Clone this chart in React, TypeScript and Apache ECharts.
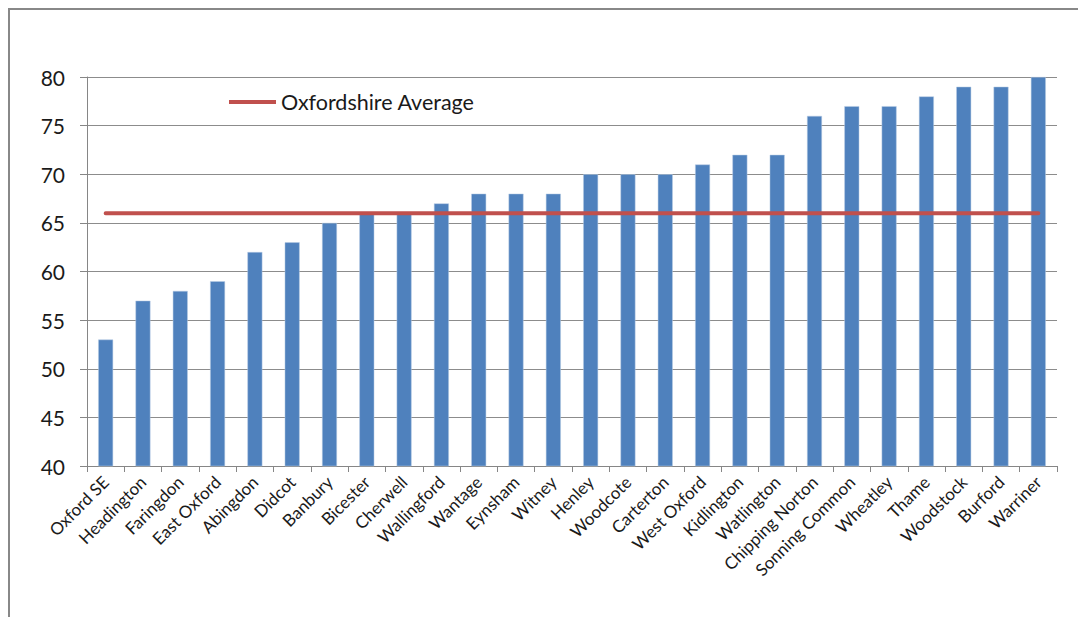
import React, { useEffect, useRef } from "react";
import * as echarts from "echarts";

const categories = [
  "Oxford SE", "Headington", "Faringdon", "East Oxford", "Abingdon", "Didcot",
  "Banbury", "Bicester", "Cherwell", "Wallingford", "Wantage", "Eynsham",
  "Witney", "Henley", "Woodcote", "Carterton", "West Oxford", "Kidlington",
  "Watlington", "Chipping Norton", "Sonning Common", "Wheatley", "Thame",
  "Woodstock", "Burford", "Warriner",
];
const values = [53, 57, 58, 59, 62, 63, 65, 66, 66, 67, 68, 68, 68, 70, 70, 70, 71, 72, 72, 76, 77, 77, 78, 79, 79, 80];
const averageValue = 66;
const averageLine = categories.map(() => averageValue);
const averageName = "Oxfordshire Average";

const FONT = "Lato";

export default function App() {
  const ref = useRef<HTMLDivElement>(null);
  useEffect(() => {
    if (!ref.current) return;
    const chart = echarts.init(ref.current, null, { renderer: "svg" });
    chart.setOption({
      animation: false,
      backgroundColor: "#ffffff",
      textStyle: { fontFamily: FONT },
      grid: { left: 79, right: 29, top: 69, bottom: 151, containLabel: false },
      legend: {
        data: [averageName],
        left: 216,
        top: 78,
        itemWidth: 47,
        itemHeight: 4,
        icon: "rect",
        itemGap: 5,
        textStyle: { fontSize: 21.5, color: "#1a1a1a", fontFamily: FONT },
      },
      graphic: [
        { type: "line", shape: { x1: 0, y1: 1, x2: 1200, y2: 1 }, style: { stroke: "#888", lineWidth: 2 } },
        { type: "line", shape: { x1: 1, y1: 0, x2: 1, y2: 700 }, style: { stroke: "#888", lineWidth: 2 } },
      ],
      xAxis: {
        type: "category",
        data: categories,
        boundaryGap: true,
        axisLine: { lineStyle: { color: "#868686", width: 1 } },
        axisTick: { show: true, length: 6, alignWithLabel: false, lineStyle: { color: "#868686" } },
        axisLabel: { rotate: 45, fontSize: 17, color: "#1a1a1a", margin: 13, interval: 0, fontFamily: FONT },
      },
      yAxis: {
        type: "value",
        min: 40,
        max: 80,
        interval: 5,
        axisLine: { show: true, lineStyle: { color: "#868686", width: 1 } },
        axisTick: { show: true, length: 7, lineStyle: { color: "#868686" } },
        axisLabel: { fontSize: 21, color: "#1a1a1a", margin: 22, fontFamily: FONT },
        splitLine: { show: true, lineStyle: { color: "#8c8c8c", width: 1 } },
      },
      series: [
        {
          type: "bar",
          name: "Score",
          data: values,
          barWidth: "40%",
          itemStyle: { color: "#4F81BD", borderColor: "#b9cde5", borderWidth: 0.5 },
        },
        {
          type: "line",
          name: averageName,
          data: averageLine,
          symbol: "none",
          lineStyle: { color: "#C0504D", width: 4, cap: "round" },
          itemStyle: { color: "#C0504D" },
          z: 3,
        },
      ],
    });
    return () => chart.dispose();
  }, []);
  return <div ref={ref} style={{ width: 1078, height: 609 }} />;
}
